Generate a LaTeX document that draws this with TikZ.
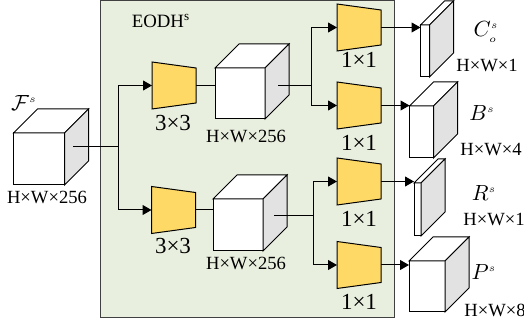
\documentclass[tikz,border=0pt]{standalone}
\usepackage{fontspec}
\setmainfont{Liberation Serif}
\usetikzlibrary{arrows.meta}

\definecolor{verdeclaro}{HTML}{E9EFDF}
\definecolor{amarelo}{HTML}{FFD966}
\definecolor{cinza}{HTML}{E2E2E2}

\begin{document}
\begin{tikzpicture}[
  x=0.5pt, y=-0.5pt,
  line width=0.5pt,
  face/.style={draw, fill=white, inner sep=0pt, outer sep=0pt, anchor=center},
  conv/.style={inner sep=0pt, outer sep=0pt, minimum width=22pt, minimum height=23.5pt},
  seta/.style={-{Triangle[length=4.5pt,width=5pt]}},
  dim/.style={font=\fontsize{9.3}{11}\selectfont},
  ker/.style={font=\fontsize{11.5}{13}\selectfont},
  saida/.style={font=\fontsize{10.5}{12}\selectfont, inner sep=1pt}
]
\useasboundingbox (0,0) rectangle (524,324);
\def\prof{24}
% caixa EODH
\draw[fill=verdeclaro, draw=black!75] (100,1) rectangle (394,318);
\node[font=\fontsize{9.4}{11}\selectfont] (titulo) at (161,21) {EODH\textsuperscript{s}};
% cubos
\foreach \nm/\cx/\cy/\w/\h in {ent/39/159/51/52, m1/240/93.5/50/51, m2/238/225/50/52,
    oc/425/51/9/52, ob/421.5/132/24/52, or/417.5/209.5/7/53, op/427/286.5/36/51} {
  \node[face, minimum width=\w*0.5pt, minimum height=\h*0.5pt] (\nm) at (\cx,\cy) {};
  \draw[fill=white] (\nm.north west) -- ++(\prof,-\prof) -- ++(\w,0) -- (\nm.north east) -- cycle;
  \draw[fill=cinza] (\nm.north east) -- ++(\prof,-\prof) -- ++(0,\h) -- (\nm.south east) -- cycle;
}
% convolucoes
\foreach \nm/\cx/\cy in {k1/174/85.5, k2/173.5/210, k3/359/27.5, k4/359/105.5, k5/359/181.5, k6/359/265} {
  \node[conv] (\nm) at (\cx,\cy) {};
  \draw[fill=amarelo] (\nm.north west) -- ([yshift=-3pt]\nm.north east)
    -- ([yshift=3pt]\nm.south east) -- (\nm.south west) -- cycle;
}
% ligacoes
\coordinate (o1) at (73,147);
\coordinate (b1) at (118,147);
\draw (o1) -- (b1);
\draw[seta] (b1) |- (k1.west);
\draw[seta] (b1) |- (k2.west);
\draw (k1.east) -- (k1.east -| m1.west);
\draw (k2.east) -- (k2.east -| m2.west);
\coordinate (o2) at (278,85.5);
\coordinate (b2) at (311,85.5);
\draw (o2) -- (b2);
\draw[seta] (b2) |- (k3.west);
\draw[seta] (b2) |- (k4.west);
\coordinate (o3) at (274,216);
\coordinate (b3) at (313,216);
\draw (o3) -- (b3);
\draw[seta] (b3) |- (k5.west);
\draw[seta] (b3) |- (k6.west);
\draw[seta] (k3.east) -- (k3.east -| oc.west);
\draw[seta] (k4.east) -- (k4.east -| ob.west);
\draw[seta] (k5.east) -- (k5.east -| or.west);
\draw[seta] (k6.east) -- (k6.east -| op.west);
% rotulos
\node[font=\fontsize{11}{13}\selectfont] (lent) at (24,103) {$\mathcal{F}^{\scriptscriptstyle s}$};
\node[dim] (dent) at (47,197) {H×W×256};
\node[dim] (dm1) at (246,136) {H×W×256};
\node[dim] (dm2) at (246,263) {H×W×256};
\foreach \nm/\cx/\cy/\t in {lk1/173/123/3×3, lk2/173/246/3×3, lk3/359/60/1×1,
    lk4/359/143/1×1, lk5/359/219/1×1, lk6/359/302/1×1}
  \node[ker] (\nm) at (\cx,\cy) {\t};
\node[saida] (loc) at (486,32) {$C^{\scriptscriptstyle s}_{\scriptscriptstyle o}$};
\node[saida] (lob) at (482,113) {$B^{\scriptscriptstyle s}$};
\node[saida] (lor) at (484,193) {$R^{\scriptscriptstyle s}$};
\node[saida] (lop) at (484,272) {$P^{\scriptscriptstyle s}$};
\node[dim] (doc) at (487,66) {H×W×1};
\node[dim] (dob) at (491,150) {H×W×4};
\node[dim] (dor) at (494,220) {H×W×1};
\node[dim] (dop) at (495,310) {H×W×8};
\end{tikzpicture}
\end{document}
